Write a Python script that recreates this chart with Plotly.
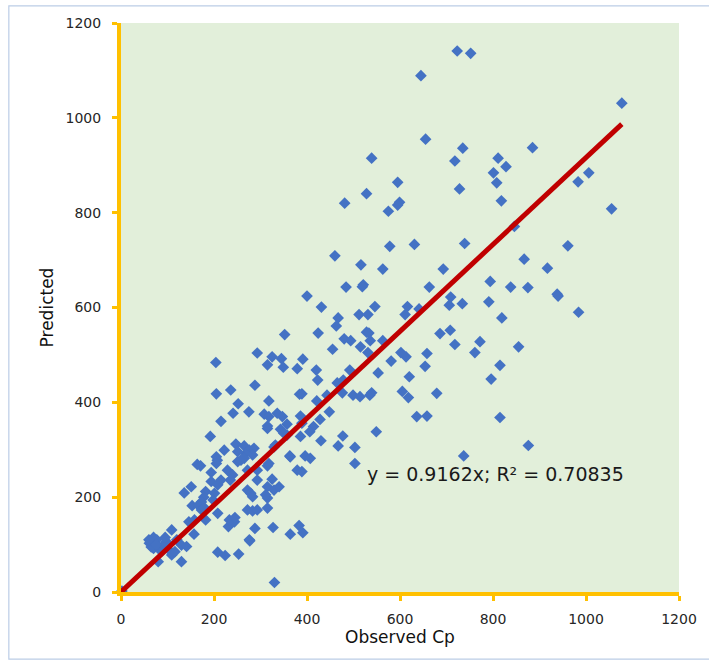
import plotly.graph_objects as go

# Observed vs predicted Cp values
observed = [
    723, 752, 645, 1077, 655, 735, 885, 718, 811, 828, 801, 1006, 983, 808, 728, 599, 595, 818, 1055, 631,
    739, 961, 867, 846, 539, 528, 481, 595, 575, 578, 460, 516, 563, 693, 917, 484, 521, 519, 663, 794,
    838, 875, 938, 940, 709, 706, 734, 791, 984, 819, 546, 616, 641, 611, 512, 531, 467, 463, 528, 533,
    480, 494, 536, 563, 686, 708, 772, 718, 855, 515, 400, 431, 424, 761, 455, 531, 391, 420, 423, 492,
    553, 581, 602, 613, 658, 654, 815, 796, 620, 389, 465, 478, 476, 443, 421, 499, 514, 535, 539, 605,
    618, 679, 815, 636, 658, 549, 448, 428, 414, 406, 386, 389, 430, 477, 467, 503, 876, 737, 352, 293,
    325, 345, 349, 315, 379, 204, 288, 205, 236, 318, 384, 252, 275, 241, 215, 192, 308, 318, 336, 347,
    357, 343, 350, 315, 386, 247, 222, 205, 265, 276, 286, 283, 332, 363, 396, 164, 171, 151, 136, 153,
    146, 157, 109, 70, 61, 70, 80, 91, 98, 87, 109, 116, 130, 130, 141, 80, 77, 208, 224, 253,
    231, 244, 277, 288, 327, 364, 383, 391, 330, 2, 503, 194, 207, 205, 229, 251, 258, 268, 240, 235,
    194, 208, 215, 182, 178, 173, 201, 198, 166, 173, 180, 158, 182, 208, 233, 245, 272, 279, 283, 293,
    272, 283, 293, 315, 276, 315, 329, 340, 325, 315, 311, 315, 318, 293, 272, 265, 315, 364, 379, 389,
    407, 251, 329, 357, 65, 75, 95, 100, 120, 60,
]
predicted = [
    1141, 1136, 1089, 1031, 955, 936, 937, 909, 915, 897, 884, 884, 865, 863, 850, 822, 864, 825, 808, 733,
    735, 730, 702, 771, 915, 840, 820, 816, 803, 729, 709, 690, 681, 681, 683, 643, 648, 644, 643, 655,
    643, 642, 628, 624, 622, 605, 608, 612, 590, 578, 602, 602, 597, 585, 585, 585, 578, 561, 548, 546,
    534, 530, 530, 530, 545, 552, 528, 522, 517, 517, 624, 601, 546, 505, 512, 505, 491, 468, 447, 468,
    462, 487, 505, 496, 503, 476, 478, 449, 454, 418, 441, 447, 420, 415, 403, 415, 412, 415, 420, 423,
    410, 419, 368, 370, 371, 338, 380, 364, 349, 338, 371, 356, 319, 329, 308, 305, 309, 287, 543, 504,
    496, 492, 474, 479, 471, 484, 436, 418, 426, 403, 417, 397, 380, 377, 360, 328, 375, 370, 377, 370,
    354, 343, 335, 345, 328, 312, 299, 285, 308, 299, 303, 289, 310, 287, 287, 269, 266, 222, 209, 182,
    148, 122, 131, 115, 103, 92, 96, 99, 106, 85, 78, 85, 64, 99, 96, 64, 110, 84, 77, 80,
    138, 148, 108, 134, 136, 122, 140, 125, 20, 2, 271, 252, 278, 271, 257, 275, 278, 292, 247, 236,
    233, 226, 236, 212, 200, 190, 208, 194, 183, 173, 177, 152, 152, 166, 152, 157, 215, 208, 201, 236,
    173, 171, 173, 177, 110, 222, 215, 222, 238, 198, 205, 266, 271, 257, 257, 282, 350, 285, 257, 254,
    282, 296, 306, 331, 95, 100, 115, 92, 110, 110,
]

# Linear fit through the origin
slope = 0.9162
r_squared = 0.70835
axis_ticks = [0, 200, 400, 600, 800, 1000, 1200]

gold = "#FFC000"
font_family = "DejaVu Sans"

fit_x = [0, max(observed)]
fit_y = [slope * v for v in fit_x]

fig = go.Figure()
fig.add_trace(go.Scatter(
    x=observed, y=predicted, mode="markers",
    marker=dict(symbol="diamond", size=9, color="#4472C4", line=dict(width=0)),
    cliponaxis=False, hoverinfo="x+y",
))
fig.add_trace(go.Scatter(
    x=fit_x, y=fit_y, mode="lines",
    line=dict(color="#C00000", width=5),
    cliponaxis=False, hoverinfo="skip",
))

axis_common = dict(
    range=[0, 1200], tickvals=axis_ticks, ticktext=[str(t) for t in axis_ticks],
    showgrid=False, zeroline=False, showline=True, linecolor=gold, linewidth=4,
    ticks="outside", ticklen=5, tickwidth=3, tickcolor=gold,
    tickfont=dict(family=font_family, size=14, color="#262626"),
    fixedrange=True,
)

fig.update_layout(
    width=709, height=665,
    margin=dict(l=121, r=26, t=23, b=73),
    paper_bgcolor="white", plot_bgcolor="#E2EFDA",
    showlegend=False,
    xaxis=dict(**axis_common, ticklabelstandoff=6,
               title=dict(text="Observed Cp", standoff=6,
                          font=dict(family=font_family, size=17, color="#111111"))),
    yaxis=dict(**axis_common, ticklabelstandoff=8,
               title=dict(text="Predicted", standoff=9,
                          font=dict(family=font_family, size=17, color="#111111"))),
    annotations=[dict(
        x=805, y=249, xref="x", yref="y", showarrow=False,
        text=f"y = {slope}x; R² = {r_squared}",
        font=dict(family=font_family, size=19, color="#1a1a1a"),
    )],
    shapes=[dict(
        type="rect", xref="paper", yref="paper", layer="below",
        x0=-0.201, x1=1.07, y0=-0.118, y1=1.03,
        line=dict(color="#BCCDE6", width=1.2), fillcolor="rgba(0,0,0,0)",
    )],
)

fig.write_html("out.html")
